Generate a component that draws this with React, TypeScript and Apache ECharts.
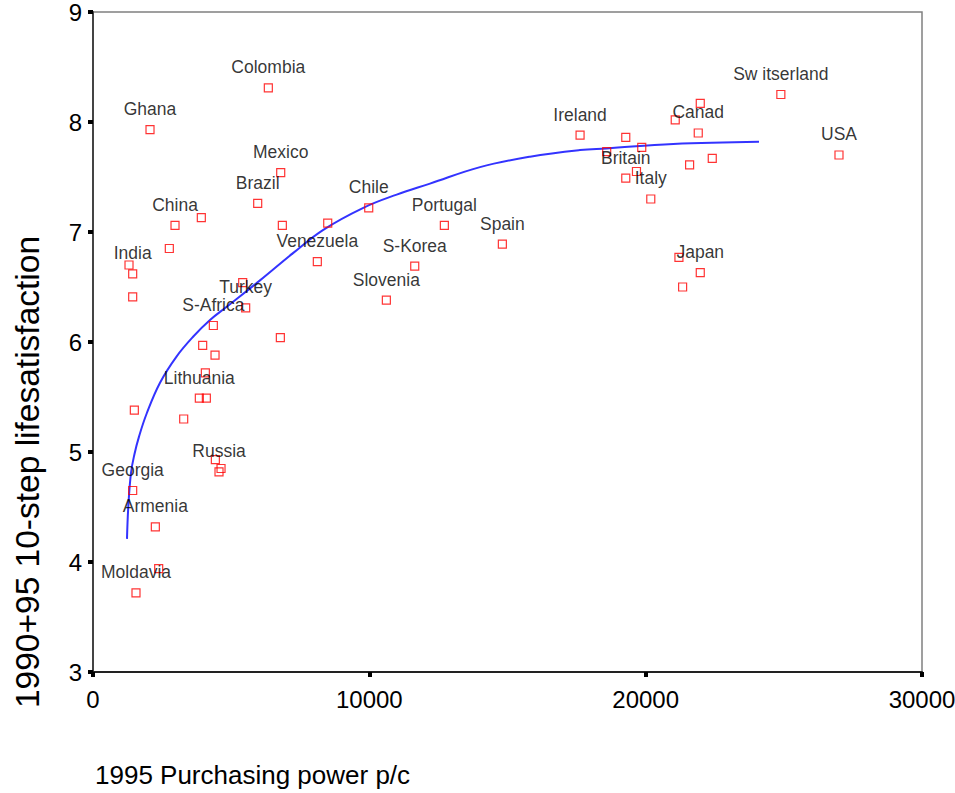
import React, { useEffect, useRef } from "react";
import * as echarts from "echarts";

// Labelled countries
const countryNames = [
  "Colombia", "Ghana", "Mexico", "Brazil", "China", "India", "Venezuela", "Turkey",
  "S-Africa", "Lithuania", "Russia", "Georgia", "Armenia", "Moldavia", "Chile",
  "Portugal", "Spain", "S-Korea", "Slovenia", "Ireland", "Britain", "Italy",
  "Canad", "Japan", "Sw itserland", "USA",
];
const countryPPP = [
  6345, 2063, 6793, 5960, 2968, 1436, 8118, 5525,
  4355, 3848, 4560, 1436, 2256, 1556, 9978,
  12715, 14814, 11643, 10616, 17626, 19280, 20185,
  21903, 21976, 24892, 26996,
];
const countrySatisfaction = [
  8.31, 7.93, 7.54, 7.26, 7.06, 6.62, 6.73, 6.31,
  6.15, 5.49, 4.82, 4.65, 4.32, 3.72, 7.22,
  7.06, 6.89, 6.69, 6.38, 7.88, 7.49, 7.30,
  7.90, 6.63, 8.25, 7.70,
];

// Unlabelled countries
const otherPPP = [
  3920, 6852, 8494, 2762, 1303, 1436, 5417, 3969, 4416, 6780, 4066, 4102, 1496,
  3282, 4428, 4633, 2377, 19280, 19858, 18590, 19667, 21070, 21976, 21590, 22410,
  21204, 21337,
];
const otherSatisfaction = [
  7.13, 7.06, 7.08, 6.85, 6.70, 6.41, 6.54, 5.97, 5.88, 6.04, 5.72, 5.49, 5.38,
  5.30, 4.93, 4.85, 3.94, 7.86, 7.77, 7.73, 7.55, 8.02, 8.17, 7.61, 7.67,
  6.77, 6.50,
];

// Fitted curve
const curvePPP = [
  1230, 1277, 1375, 1500, 1665, 1943, 2425, 3029, 3630, 4234, 4839, 6043, 7249,
  8334, 9782, 10990, 12195, 14005, 15815, 17624, 18590, 21000, 24101,
];
const curveSatisfaction = [
  4.21, 4.50, 4.81, 4.98, 5.14, 5.35, 5.63, 5.87, 6.05, 6.20, 6.32, 6.56, 6.81,
  7.02, 7.22, 7.34, 7.44, 7.59, 7.685, 7.745, 7.76, 7.80, 7.82,
];

const xTicks = { min: 0, max: 30000, interval: 10000 };
const yTicks = { min: 3, max: 9, interval: 1 };

const xTitle = "1995 Purchasing power p/c";
const yTitle = "1990+95 10-step lifesatisfaction";

const FONT = "'Liberation Sans', Arial, Helvetica, sans-serif";

export default function App() {
  const ref = useRef<HTMLDivElement>(null);
  useEffect(() => {
    if (!ref.current) return;
    const chart = echarts.init(ref.current, null, { renderer: "svg" });
    const labelled = countryNames.map((n, i) => ({
      value: [countryPPP[i], countrySatisfaction[i]],
      name: n,
    }));
    const others = otherPPP.map((x, i) => [x, otherSatisfaction[i]]);
    const curve = curvePPP.map((x, i) => [x, curveSatisfaction[i]]);
    const symbolStyle = {
      color: "rgba(255,255,255,0)",
      borderColor: "#ff0000",
      borderWidth: 1.2,
    };
    chart.setOption({
      animation: false,
      backgroundColor: "#ffffff",
      textStyle: { fontFamily: FONT },
      grid: {
        left: 93,
        right: 33,
        top: 12,
        bottom: 121,
        show: true,
        borderColor: "#808080",
        borderWidth: 1.5,
        backgroundColor: "transparent",
        outerBoundsMode: "none",
        containLabel: false,
      },
      xAxis: {
        type: "value",
        min: xTicks.min,
        max: xTicks.max,
        interval: xTicks.interval,
        axisLine: { show: true, lineStyle: { color: "#222", width: 2 } },
        axisTick: { show: true, length: 5, lineStyle: { color: "#000", width: 4 } },
        axisLabel: {
          color: "#000",
          fontSize: 24,
          fontFamily: FONT,
          margin: 15,
          formatter: (v: number) => String(v),
        },
        splitLine: { show: false },
      },
      yAxis: {
        type: "value",
        min: yTicks.min,
        max: yTicks.max,
        interval: yTicks.interval,
        axisLine: { show: true, lineStyle: { color: "#444", width: 2 } },
        axisTick: { show: true, length: 5, lineStyle: { color: "#000", width: 4 } },
        axisLabel: {
          color: "#000",
          fontSize: 24,
          lineHeight: 22,
          fontFamily: FONT,
          margin: 11,
        },
        splitLine: { show: false },
      },
      graphic: [
        {
          type: "text",
          x: 95,
          y: 775,
          style: {
            text: xTitle,
            font: `26px ${FONT}`,
            fill: "#000",
            textAlign: "left",
            textVerticalAlign: "middle",
          },
        },
        {
          type: "text",
          x: 27,
          y: 472,
          rotation: Math.PI / 2,
          style: {
            text: yTitle,
            font: `33.5px ${FONT}`,
            fill: "#000",
            textAlign: "center",
            textVerticalAlign: "middle",
          },
        },
      ],
      series: [
        {
          type: "line",
          data: curve,
          smooth: 0.4,
          showSymbol: false,
          symbol: "none",
          lineStyle: { color: "#3333ff", width: 2 },
          z: 1,
        },
        {
          type: "scatter",
          data: others,
          symbol: "rect",
          symbolSize: 8,
          itemStyle: symbolStyle,
          z: 2,
        },
        {
          type: "scatter",
          data: labelled,
          symbol: "rect",
          symbolSize: 8,
          itemStyle: symbolStyle,
          label: {
            show: true,
            position: "top",
            distance: 7,
            formatter: (p: any) => p.name,
            color: "#000",
            fontSize: 17.5,
            fontFamily: FONT,
          },
          z: 3,
        },
      ],
    });
    return () => chart.dispose();
  }, []);
  return (
    <div
      ref={ref}
      style={{ position: "fixed", left: 0, top: 0, width: 955, height: 793 }}
    />
  );
}
